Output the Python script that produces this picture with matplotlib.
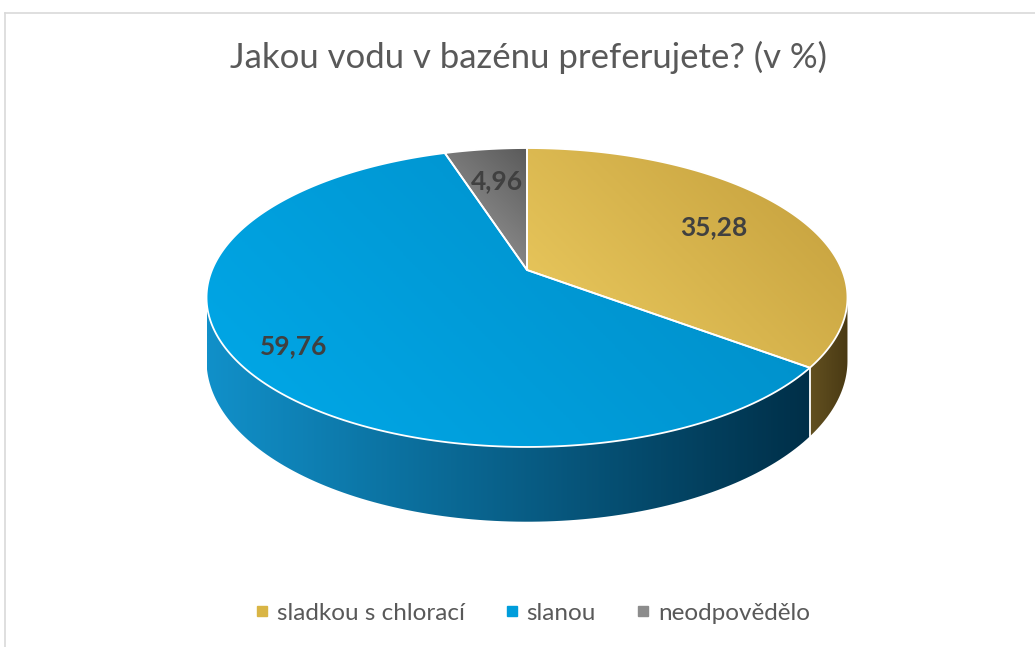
import numpy as np
import matplotlib
matplotlib.use("Agg")
import matplotlib.pyplot as plt
from matplotlib.patches import Polygon
from matplotlib.colors import LinearSegmentedColormap
from matplotlib.lines import Line2D

# data
labels = ['sladkou s chlorací', 'slanou', 'neodpovědělo']
values = [35.28, 59.76, 4.96]
value_texts = ['35,28', '59,76', '4,96']
title = 'Jakou vodu v bazénu preferujete? (v %)'

top_colors = [('#EDCC60', '#C29D3B'), ('#00A9E9', '#008BC4'), ('#A2A2A2', '#5A5A5A')]
wall_colors = [('#625020', '#4A3A14'), ('#1190C9', '#002F48'), ('#777777', '#444444')]
legend_colors = ['#D9B545', '#009DDB', '#8C8C8C']

FONT = 'Lato'

# pie geometry (pixels), simple perspective
CX, CY = 527, 270
RX, RY = 315, 144.4
P = 0.184
DEPTH = 61

def proj(a_deg, r=1.0, drop=0.0):
    a = np.radians(a_deg)
    s = 1.0 / (1.0 + P * r * np.sin(a))
    x = CX + RX * r * np.cos(a) * s
    y = CY - RY * r * np.sin(a) * s + drop * s
    return x, y

fig = plt.figure(figsize=(10.35, 6.47), dpi=100)
ax = fig.add_axes([0, 0, 1, 1])


def grad_fill(xy, c0, c1, d, z):
    patch = Polygon(xy, closed=True, facecolor='none', edgecolor='none', zorder=z)
    ax.add_patch(patch)
    x0, y0 = xy.min(axis=0)
    x1, y1 = xy.max(axis=0)
    xs, ys = np.meshgrid(np.linspace(x0, x1, 200), np.linspace(y0, y1, 200))
    t = (xs - x0) * d[0] + (ys - y0) * d[1]
    t = (t - t.min()) / (t.max() - t.min() + 1e-9)
    cmap = LinearSegmentedColormap.from_list('g', [c0, c1])
    im = ax.imshow(t, cmap=cmap, extent=(x0, x1, y1, y0), origin='upper',
                   zorder=z, interpolation='bilinear', aspect='auto')
    im.set_clip_path(patch)


# visible wall range (front half)
wall_hi, wall_lo = -np.degrees(np.arcsin(P)), -180 + np.degrees(np.arcsin(P))

starts = 90 - 360 * np.concatenate([[0], np.cumsum(values)[:-1]]) / 100
ends = starts - 360 * np.array(values) / 100

for i in range(len(values)):
    a1, a2 = min(starts[i], wall_hi), max(ends[i], wall_lo)
    if a1 <= a2:
        continue
    aa = np.linspace(a1, a2, 120)
    tx, ty = proj(aa)
    bx, by = proj(aa, drop=DEPTH)
    xy = np.column_stack([np.r_[tx, bx[::-1]], np.r_[ty, by[::-1]]])
    grad_fill(xy, wall_colors[i][0], wall_colors[i][1], (1, 0), 1)

# divider line on the wall
for a in ends[:-1]:
    if wall_lo < a < wall_hi:
        tx, ty = proj(a)
        bx, by = proj(a, drop=DEPTH)
        ax.plot([tx, bx], [ty, by], color='white', lw=1.3, zorder=2)

# top face
for i in range(len(values)):
    aa = np.linspace(starts[i], ends[i], 200)
    tx, ty = proj(aa)
    xy = np.column_stack([np.r_[CX, tx], np.r_[CY, ty]])
    grad_fill(xy, top_colors[i][0], top_colors[i][1], (1, -1), 3)
    ax.add_patch(Polygon(xy, closed=True, facecolor='none', edgecolor='white',
                         lw=1.3, zorder=4))

# value labels
label_r = [0.7, 0.83, 0.7]
for i in range(len(values)):
    mid = (starts[i] + ends[i]) / 2
    x, y = proj(mid, r=label_r[i])
    ax.text(x, y, value_texts[i], ha='center', va='center', fontsize=19,
            fontweight='bold', color='#404040', family=FONT, zorder=5)

# chart frame
ax.plot([4.5, 1035], [12.5, 12.5], color='#D9D9D9', lw=1.2, zorder=0)
ax.plot([4.5, 4.5], [12.5, 647], color='#D9D9D9', lw=1.2, zorder=0)

ax.text(529, 57, title, ha='center', va='center', fontsize=25,
        color='#595959', family=FONT)

handles = [Line2D([], [], marker='s', ls='none', markersize=6.5,
                  markerfacecolor=c, markeredgecolor=c) for c in legend_colors]
fig.legend(handles, labels, loc='center', bbox_to_anchor=(0.515, 0.052), ncol=3,
           frameon=False, prop={'family': FONT, 'size': 17.5},
           labelcolor='#595959', handlelength=0.5, handletextpad=0.35,
           columnspacing=1.7)

ax.set_xlim(0, 1035)
ax.set_ylim(647, 0)
ax.axis('off')
fig.savefig('out.png', dpi=100)
